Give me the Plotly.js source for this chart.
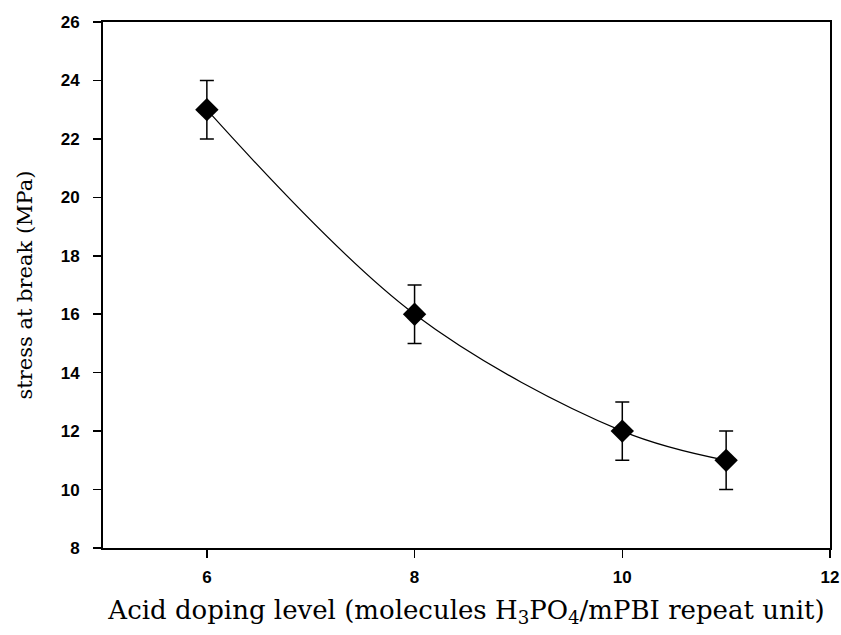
<!DOCTYPE html>
<html>
<head>
<meta charset="utf-8">
<script src="https://cdn.plot.ly/plotly-3.0.1.min.js"></script>
<style>
  html, body { margin: 0; padding: 0; background: #fff; }
  #chart { width: 841px; height: 635px; }
</style>
</head>
<body>
<div id="chart"></div>
<script>
// Acid doping level (molecules H3PO4 per mPBI repeat unit)
const dopingLevel = [6, 8, 10, 11];
// Stress at break (MPa)
const stressAtBreak = [23, 16, 12, 11];
// Error bar half-widths (MPa)
const stressError = [1, 1, 1, 1];

const xTicks = [6, 8, 10, 12];
const yTicks = [8, 10, 12, 14, 16, 18, 20, 22, 24, 26];

const trace = {
  x: dopingLevel,
  y: stressAtBreak,
  type: 'scatter',
  mode: 'lines+markers',
  line: { color: '#000', width: 1.2, shape: 'spline', smoothing: 1 },
  marker: { symbol: 'diamond', size: 18, color: '#000' },
  error_y: {
    type: 'data',
    array: stressError,
    visible: true,
    color: '#000',
    thickness: 1.5,
    width: 7
  },
  showlegend: false,
  hoverinfo: 'x+y'
};

const tickFont = { family: 'Liberation Sans, Arial, sans-serif', size: 17, color: '#000', weight: 700 };

const layout = {
  width: 841,
  height: 635,
  paper_bgcolor: '#fff',
  plot_bgcolor: '#fff',
  margin: { l: 103, r: 11, t: 22, b: 87 },
  xaxis: {
    range: [5, 12],
    tickvals: xTicks,
    ticktext: xTicks.map(String),
    ticks: 'outside',
    ticklen: 8,
    tickwidth: 1.5,
    tickcolor: '#000',
    showline: true,
    linecolor: '#000',
    linewidth: 2,
    mirror: true,
    showgrid: false,
    zeroline: false,
    tickfont: tickFont,
    ticklabelstandoff: 5,
    title: {
      text: 'Acid doping level (molecules H<sub>3</sub>PO<sub>4</sub>/mPBI repeat unit)',
      font: { family: 'DejaVu Serif, serif', size: 26, color: '#000' },
      standoff: 14
    }
  },
  yaxis: {
    range: [8, 26],
    tickvals: yTicks,
    ticktext: yTicks.map(String),
    ticks: 'outside',
    ticklen: 8,
    tickwidth: 1.5,
    tickcolor: '#000',
    showline: true,
    linecolor: '#000',
    linewidth: 2,
    mirror: true,
    showgrid: false,
    zeroline: false,
    tickfont: tickFont,
    ticklabelstandoff: 10,
    title: {
      text: 'stress at break (MPa)',
      font: { family: 'DejaVu Serif, serif', size: 21, color: '#000' },
      standoff: 22
    }
  }
};

Plotly.newPlot('chart', [trace], layout, { displayModeBar: false, staticPlot: true });
</script>
</body>
</html>
